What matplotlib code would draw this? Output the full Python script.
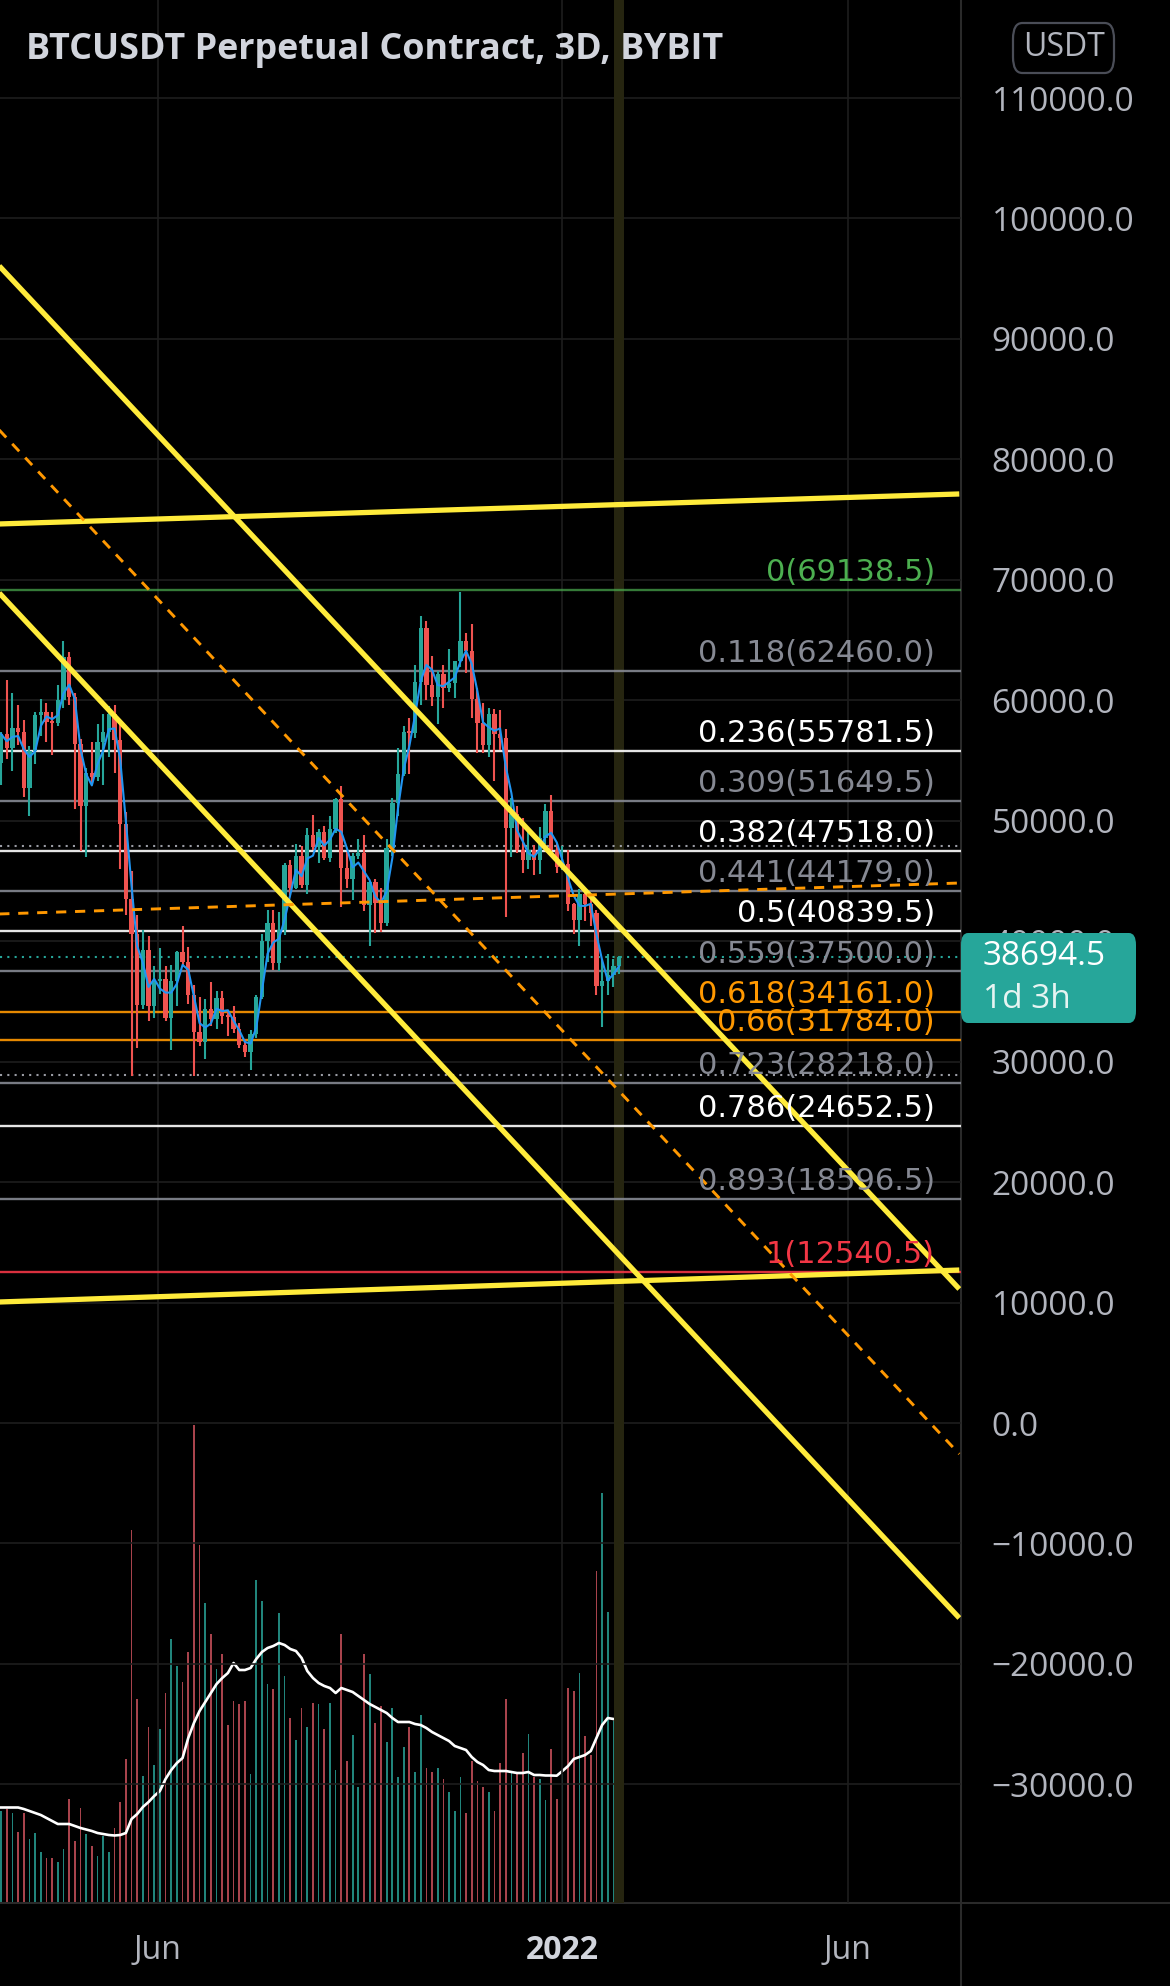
import numpy as np
import pandas as pd
import matplotlib
matplotlib.use("Agg")
import matplotlib.pyplot as plt
import matplotlib.dates as mdates
from matplotlib.patches import FancyBboxPatch
from matplotlib.lines import Line2D

plt.rcParams['font.family'] = ['Open Sans', 'DejaVu Sans']

# ---------------- data (3D candles, BTCUSDT perp) ----------------
start = '2021-03-10'
opens = [54800, 57200, 56000, 57700, 57400, 52700, 55800, 58800, 59000, 58200,
         58100, 60000, 63600, 60300, 56400, 51200, 54000, 53600, 56500, 57400,
         58900, 56700, 49700, 43500, 40600, 34700, 39300, 34600, 36700, 36900,
         33600, 36700, 39100, 38300, 35500, 32500, 31600, 34400, 33500, 35300,
         33800, 33700, 32700, 31400, 30800, 32300, 35400, 40000, 41500, 38200,
         40900, 46300, 44400, 47100, 44700, 48800, 47800, 49100, 46900, 49300,
         51800, 46100, 45200, 47100, 47300, 43000, 44900, 43200, 41500, 47700,
         51500, 53900, 57400, 57300, 61500, 66000, 61300, 60300, 62200, 61000,
         61400, 63300, 64900, 64100, 60100, 58100, 56300, 58900, 57200, 56900,
         49400, 50600, 47600, 46700, 47600, 46700, 48600, 50800, 47600, 46200,
         46400, 43100, 41800, 43900, 43100, 42300, 36300, 36700, 37200, 37900]
highs = [57400, 61700, 60600, 59600, 58400, 56200, 59000, 60100, 59800, 59000,
         61300, 64900, 64000, 60600, 56800, 54400, 56500, 58000, 58900, 59500,
         59600, 58000, 50700, 45800, 42200, 40900, 40400, 37900, 39400, 37900,
         38000, 39200, 41300, 39500, 36400, 35400, 35200, 36600, 35900, 35900,
         34200, 34600, 33200, 31900, 32600, 35500, 40600, 42600, 42600, 42400,
         46500, 46700, 48100, 47900, 49400, 50500, 49300, 49600, 50400, 51900,
         52900, 47400, 47300, 48500, 48800, 45000, 45200, 44400, 48500, 51900,
         56000, 57900, 58500, 62900, 67000, 66600, 63700, 62400, 62900, 64300,
         63300, 69000, 65600, 66300, 61000, 59800, 59400, 59300, 59200, 57600,
         51900, 51200, 50200, 49500, 48000, 49500, 51400, 52100, 48100, 47900,
         47600, 43200, 44300, 44300, 43500, 42600, 38500, 38900, 38500, 38800]
lows = [53000, 55100, 54100, 56300, 52000, 50400, 54700, 57000, 56500, 55500,
        57900, 59400, 59600, 51000, 47500, 47000, 53100, 53300, 53000, 55300,
        54000, 46000, 42200, 28800, 31100, 34400, 33400, 33600, 35600, 33400,
        31000, 34600, 38000, 34800, 28800, 31300, 30200, 33000, 32700, 33100,
        32100, 32400, 31100, 30400, 29300, 32000, 35200, 38300, 37600, 37500,
        40500, 43800, 44300, 44400, 43900, 47600, 46500, 46700, 46600, 49000,
        42800, 44400, 43400, 46800, 42500, 39600, 40700, 40800, 41300, 47100,
        50400, 53700, 53900, 56900, 59600, 60000, 59500, 58000, 59400, 60700,
        60200, 62800, 62300, 58500, 55600, 55600, 55300, 53300, 55900, 42000,
        47000, 47300, 45700, 46000, 45500, 45600, 48100, 47300, 45700, 45900,
        42500, 40600, 39600, 41700, 41300, 35500, 32900, 35500, 36200, 37300]
closes = [57200, 56000, 57700, 57400, 52700, 55800, 58800, 59000, 58200, 58100,
          60000, 63600, 60300, 56400, 51200, 54000, 53600, 56500, 57400, 58900,
          56700, 49700, 43500, 40600, 34700, 39300, 34600, 36700, 36900, 33600,
          36700, 39100, 38300, 35500, 32500, 31600, 34400, 33500, 35300, 33800,
          33700, 32700, 31400, 30800, 32300, 35400, 40000, 41500, 38200, 40900,
          46300, 44400, 47100, 44700, 48800, 47800, 49100, 46900, 49300, 51800,
          46100, 45200, 47100, 47300, 43000, 44900, 43200, 41500, 47700, 51500,
          53900, 57400, 57300, 61500, 66000, 61300, 60300, 62200, 61000, 61400,
          63300, 64900, 64100, 60100, 58100, 56300, 58900, 57200, 56900, 49400,
          50600, 47600, 46700, 47600, 46700, 48600, 50800, 47600, 46200, 46400,
          43100, 41800, 43900, 43100, 42300, 36300, 36700, 37200, 37900, 38694.5]
volume = [92, 94, 90, 71, 90, 64, 70, 51, 45, 45,
          41, 54, 104, 62, 95, 69, 57, 47, 67, 51,
          75, 101, 144, 373, 204, 127, 176, 138, 174, 210,
          264, 237, 221, 251, 478, 358, 300, 269, 234, 249,
          178, 202, 199, 202, 129, 323, 302, 219, 214, 290,
          227, 185, 163, 195, 176, 200, 199, 174, 200, 133,
          269, 142, 168, 116, 249, 229, 180, 197, 161, 195,
          126, 156, 176, 131, 188, 135, 131, 135, 124, 111,
          92, 126, 90, 142, 122, 116, 111, 92, 140, 204,
          131, 129, 150, 169, 126, 124, 103, 154, 104, 129,
          215, 212, 230, 167, 148, 332, 410, 291, 182, 140]
vol_ma = [95.5, 95.5, 95.5, 95.5, 94, 92, 90, 88, 85, 82,
          79, 79, 79, 77, 75, 73.5, 72, 70, 69, 68,
          67.5, 68, 70, 84, 89, 96, 101, 107, 112, 124,
          133, 140, 145, 165, 180, 192, 201, 210, 219, 225,
          230, 240, 233, 233, 235, 244, 251, 255, 257, 260,
          258, 254, 252, 245, 232, 225, 220, 217, 215, 210,
          215, 213, 211, 207, 203, 199, 196, 193, 190, 185,
          181, 181, 181, 179, 178, 175, 171, 168, 165, 162,
          157, 155, 153, 146, 141, 138, 133, 132, 132, 132,
          131, 130, 130, 131, 128, 128, 127.5, 127.5, 127.3, 132,
          137, 144, 146, 148, 152, 165, 178, 185, 184, 182]
last_price = 38694.5

fib_ratio = ['0', '0.118', '0.236', '0.309', '0.382', '0.441', '0.5',
             '0.559', '0.618', '0.66', '0.723', '0.786', '0.893', '1']
fib_price = [69138.5, 62460.0, 55781.5, 51649.5, 47518.0, 44179.0, 40839.5,
             37500.0, 34161.0, 31784.0, 28218.0, 24652.5, 18596.5, 12540.5]
fib_color = ['#4caf50', '#868993', '#ffffff', '#868993', '#ffffff', '#868993', '#ffffff',
             '#868993', '#ff9800', '#ff9800', '#868993', '#ffffff', '#868993', '#f23645']
dotted_levels = [47900, 28890]

line_start, line_end = '2021-03-09', '2022-07-30'
solid_lines = [(74640, 77130), (10046, 12700), (96060, 11125), (68910, -16190)]
dashed_lines = [(82440, -2574), (42260, 44830)]

tick_dates = ['2021-06-01', '2022-01-01', '2022-06-01']
tick_names = ['Jun', '2022', 'Jun']

# ---------------- figure ----------------
W, H = 1170, 1986
fig = plt.figure(figsize=(W / 100, H / 100), dpi=100, facecolor='black')
rect = [0, 83 / H, 961 / W, 1903 / H]

axv = fig.add_axes(rect, facecolor='black')
ax = fig.add_axes(rect)
ax.patch.set_visible(False)
axv.set_zorder(1)
ax.set_zorder(2)

dates = pd.date_range(start, periods=len(closes), freq='3D')
x = mdates.date2num(dates)
o = np.array(opens, float)
c = np.array(closes, float)
up = c >= o
col = np.where(up, '#26a69a', '#ef5350')
vcol = np.where(up, '#21857c', '#a8434c')

x0 = mdates.date2num(pd.Timestamp('2021-06-01')) - 83.6
x1 = mdates.date2num(pd.Timestamp('2021-06-01')) + 424.9
for a in (ax, axv):
    a.set_xlim(x0, x1)
    for s in a.spines.values():
        s.set_visible(False)
ax.set_ylim(-39850, 118140)
axv.set_ylim(0, 1903)
axv.set_yticks([])
axv.set_xticks([])

# grid
for v in range(-30000, 110001, 10000):
    ax.axhline(v, color='#1e1e1e', lw=1.2, zorder=0)
for d in tick_dates:
    ax.axvline(mdates.date2num(pd.Timestamp(d)), color='#1e1e1e', lw=1.2, zorder=0)

# highlighted bar
ax.axvspan(x[-1] - 2.5, x[-1] + 2.5, color='#262510', zorder=0.5, lw=0)

# volume + MA
axv.bar(x, volume, width=0.9, color=vcol, zorder=2)
axv.plot(x, vol_ma, color='white', lw=1.9, zorder=3)

# fib levels
for r, p, fc in zip(fib_ratio, fib_price, fib_color):
    ax.axhline(p, color=fc, lw=1.7, alpha=0.9 if fc != '#4caf50' else 0.7, zorder=1)
    ax.annotate(f'{r}({p:.1f})', xy=(935 / 961, p), xycoords=('axes fraction', 'data'),
                xytext=(0, 2), textcoords='offset points', ha='right', va='bottom',
                color=fc, fontsize=22, family='DejaVu Sans', zorder=6)
for p in dotted_levels:
    ax.axhline(p, color='#9a9ca4', lw=1.5, ls=(0, (1, 2.5)), zorder=1)
ax.axhline(last_price, color='#26a69a', lw=1.5, ls=(0, (1, 2.5)), zorder=1)

# candles
ax.vlines(x, lows, highs, colors=col, lw=1.5, zorder=3)
ax.bar(x, np.maximum(np.abs(c - o), 150), bottom=np.minimum(o, c), width=2.3, color=col, zorder=3)
ma = pd.Series(c).rolling(3, min_periods=1).mean()
ax.plot(x, ma, color='#2196f3', lw=1.5, zorder=4)

# trend lines
xs = mdates.date2num(pd.to_datetime([line_start, line_end]))
for y0, y1 in solid_lines:
    ax.plot(xs, [y0, y1], color='#ffeb3b', lw=3.8, solid_capstyle='butt', zorder=5)
for y0, y1 in dashed_lines:
    ax.plot(xs, [y0, y1], color='#ff9800', lw=2.1, dashes=(3.5, 3), zorder=5)

# axes ticks
ax.yaxis.tick_right()
ax.set_yticks(range(-30000, 110001, 10000))
ax.set_yticklabels([f'{v:.1f}'.replace('-', '\u2212') for v in range(-30000, 110001, 10000)])
ax.tick_params(axis='y', length=0, pad=22, labelsize=24, labelcolor='#b2b5be')
ax.set_xticks(mdates.date2num(pd.to_datetime(tick_dates)))
ax.set_xticklabels(tick_names)
ax.tick_params(axis='x', length=0, pad=22, labelsize=23, labelcolor='#b2b5be')
ax.get_xticklabels()[1].set_color('#d1d4dc')
ax.get_xticklabels()[1].set_fontweight('bold')

# separators
fig.add_artist(Line2D([961 / W, 961 / W], [0, 1], color='#2a2a2a', lw=1.5))
fig.add_artist(Line2D([0, 1], [83 / H, 83 / H], color='#2a2a2a', lw=1.5))

# title
fig.text(26 / W, 1 - 50 / H, 'BTCUSDT Perpetual Contract, 3D, BYBIT', color='#d1d4dc',
         fontsize=25.8, fontweight='bold', ha='left', va='center')

# currency box
fig.add_artist(FancyBboxPatch((1013 / W, 1 - 73 / H), 101 / W, 50 / H,
                              boxstyle='round,pad=0,rounding_size=0.008',
                              facecolor='black', edgecolor='#4a4d57', lw=1.6, zorder=5))
fig.text(1064 / W, 1 - 48 / H, 'USDT', color='#b2b5be', fontsize=23, ha='center', va='center', zorder=6)

# last price box
fig.add_artist(FancyBboxPatch((961 / W, 1 - 1023 / H), 175 / W, 90 / H,
                              boxstyle='round,pad=0,rounding_size=0.006',
                              facecolor='#26a69a', edgecolor='none', zorder=5))
fig.text(983 / W, 1 - 957 / H, f'{last_price:.1f}', color='white', fontsize=24, ha='left', va='center', zorder=6)
fig.text(983 / W, 1 - 999 / H, '1d 3h', color='#e6f4f2', fontsize=24, ha='left', va='center', zorder=6)

fig.savefig('out.png', dpi=100, facecolor='black')
